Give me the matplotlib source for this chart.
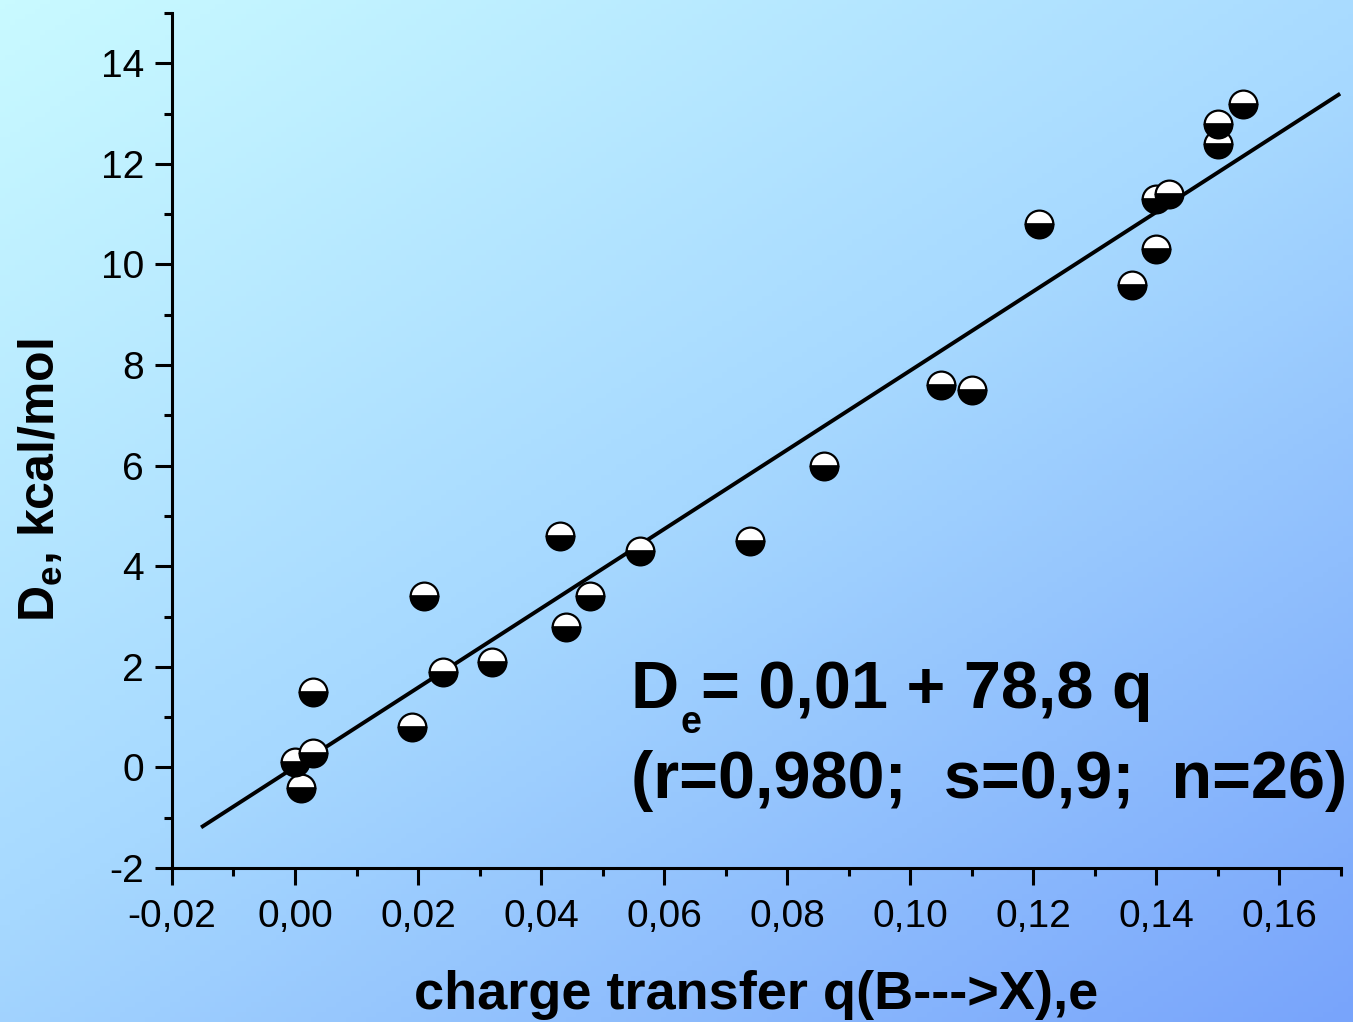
import numpy as np
import matplotlib
matplotlib.use('Agg')
import matplotlib.pyplot as plt
from matplotlib.ticker import MultipleLocator, FuncFormatter
from matplotlib.colors import LinearSegmentedColormap

plt.rcParams['font.family'] = ['Liberation Sans', 'DejaVu Sans']
plt.rcParams['mathtext.fontset'] = 'custom'
plt.rcParams['mathtext.rm'] = 'Liberation Sans'
plt.rcParams['mathtext.bf'] = 'Liberation Sans:bold'
plt.rcParams['axes.unicode_minus'] = False

# charge transfer q (e) and binding energy De (kcal/mol)
q = [0.000, 0.001, 0.003, 0.003, 0.019, 0.021, 0.024, 0.032, 0.043, 0.044,
     0.048, 0.056, 0.074, 0.086, 0.105, 0.110, 0.121, 0.136, 0.140, 0.140,
     0.142, 0.150, 0.150, 0.154]
de = [0.1, -0.4, 0.28, 1.5, 0.8, 3.4, 1.9, 2.1, 4.6, 2.8,
      3.4, 4.3, 4.5, 6.0, 7.6, 7.5, 10.8, 9.6, 10.3, 11.3,
      11.4, 12.4, 12.8, 13.2]

FIT_A, FIT_B = 0.01, 78.8
FIT_RANGE = (-0.015, 0.1696)

fig = plt.figure(figsize=(13.53, 10.22), dpi=100)

# diagonal light-cyan -> blue background
bg = fig.add_axes([0, 0, 1, 1], zorder=-10)
h, w = 200, 270
yy, xx = np.mgrid[0:h, 0:w]
t = 0.45 * xx / (w - 1) + 0.55 * yy / (h - 1)
cmap = LinearSegmentedColormap.from_list(
    'bg', ['#C9FAFF', '#A6D8FF', '#78A4FB'])
bg.imshow(t, cmap=cmap, aspect='auto', extent=[0, 1, 0, 1], origin='upper')
bg.axis('off')

ax = fig.add_axes([0.1271, 0.1507, 0.8640, 0.8366])
ax.set_facecolor('none')

xs = np.array(FIT_RANGE)
ax.plot(xs, FIT_A + FIT_B * xs, color='black', lw=2.8, zorder=2)
ax.plot(q, de, linestyle='none', marker='o', markersize=20,
        fillstyle='top', markerfacecolor='white', markerfacecoloralt='black',
        markeredgecolor='black', markeredgewidth=1.6, zorder=3)

ax.set_xlim(-0.02, 0.17)
ax.set_ylim(-2, 15)
ax.xaxis.set_major_locator(MultipleLocator(0.02))
ax.xaxis.set_minor_locator(MultipleLocator(0.01))
ax.yaxis.set_major_locator(MultipleLocator(2))
ax.yaxis.set_minor_locator(MultipleLocator(1))
ax.xaxis.set_major_formatter(FuncFormatter(
    lambda v, p: f'{v:.2f}'.replace('.', ',').replace('-0,00', '0,00')))
ax.yaxis.set_major_formatter(FuncFormatter(lambda v, p: f'{v:.0f}'))

for s in ['top', 'right']:
    ax.spines[s].set_visible(False)
for s in ['left', 'bottom']:
    ax.spines[s].set_linewidth(2.2)
ax.tick_params(which='major', direction='out', length=12, width=2.2,
               labelsize=28, pad=8)
ax.tick_params(which='minor', direction='out', length=6, width=2.2)
ax.tick_params(axis='x', which='major', pad=10)

ax.set_xlabel('charge transfer q(B--->X),e', fontsize=39, fontweight='bold',
              va='baseline')
ax.xaxis.set_label_coords(0.5, -0.1645)
ax.set_ylabel(r'D$_\mathbf{e}$, kcal/mol', fontsize=36, fontweight='bold',
              va='center')
ax.yaxis.set_label_coords(-0.112, 0.454)

# fit equation: "D", a lowered subscript "e", then the rest of the line
eq_font = dict(fontsize=48, fontweight='bold')
t_d = ax.text(0.0546, 1.19, 'D', ha='left', va='baseline', **eq_font)
t_e = ax.annotate('e', xy=(1, 0), xycoords=t_d, xytext=(1, -14),
                  textcoords='offset points', ha='left', va='bottom',
                  fontsize=27, fontweight='bold')
ax.annotate('= 0,01 + 78,8 q', xy=(1, 0), xycoords=(t_e, t_d),
            ha='left', va='bottom', **eq_font)
ax.text(0.0546, -0.6, '(r=0,980;  s=0,9;  n=26)', ha='left', va='baseline',
        **eq_font)

fig.savefig('out.png', dpi=100)
